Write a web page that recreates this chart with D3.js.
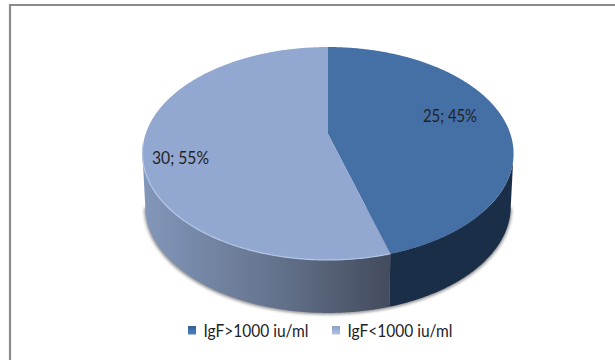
<!DOCTYPE html>
<html>
<head>
<meta charset="utf-8">
<script src="https://cdn.jsdelivr.net/npm/d3@7"></script>
<style>
  html, body { margin: 0; padding: 0; background: #fff; }
  svg { display: block; }
  text { font-family: Lato, "Open Sans", sans-serif; }
</style>
</head>
<body>
<script>
// IgE groups and patient counts
const categories = ["IgF>1000 iu/ml", "IgF<1000 iu/ml"];
const counts = [25, 30];
const percents = [45, 55];

const W = 615, H = 360;
const svg = d3.select("body").append("svg").attr("width", W).attr("height", H);
const defs = svg.append("defs");

// Chart frame: only the top and left rules are visible in the window
svg.append("rect").attr("width", W).attr("height", H).attr("fill", "#fff");
svg.append("path")
  .attr("d", `M10,${H}V5H${W}`)
  .attr("fill", "none").attr("stroke", "#8b8b8b").attr("stroke-width", 2.2);

// Perspective disc: maps unit-circle coordinates on to the screen
const cx = 328, apexY = 134, k = 0.183, a = 182.4, b = 102.9;
const depth = 53, baseShrink = 0.985;
function project(t, lift) {
  const X = Math.sin(t), Y = -Math.cos(t), w = 1 - k * Y;
  const s = lift ? baseShrink : 1;
  return [cx + s * a * X / w, apexY + b * Y / w + (lift ? depth : 0)];
}
const line = d3.line();
const arcPts = (t0, t1, lift) => {
  const n = Math.max(2, Math.ceil(Math.abs(t1 - t0) / 0.01));
  return d3.range(n + 1).map(i => project(t0 + (t1 - t0) * i / n, lift));
};

const pie = d3.pie().sort(null).startAngle(0).endAngle(2 * Math.PI);
const arcs = pie(counts);

const silhouetteR = Math.acos(-k), silhouetteL = 2 * Math.PI - silhouetteR;
const split = arcs[0].endAngle;

// Gradients for the side wall and legend keys
const wallGrad = defs.append("linearGradient").attr("id", "wallLight")
  .attr("gradientUnits", "userSpaceOnUse")
  .attr("x1", 146).attr("x2", 391).attr("y1", 0).attr("y2", 0);
wallGrad.append("stop").attr("offset", 0).attr("stop-color", "#8296b9");
wallGrad.append("stop").attr("offset", 0.5).attr("stop-color", "#66758f");
wallGrad.append("stop").attr("offset", 1).attr("stop-color", "#434b5d");

const keyColors = [["#2f5f98", "#4f80bc"], ["#8a9fc6", "#b4c4e0"]];
keyColors.forEach((c, i) => {
  const g = defs.append("linearGradient").attr("id", "key" + i)
    .attr("x1", 0).attr("x2", 0).attr("y1", 0).attr("y2", 1);
  g.append("stop").attr("offset", 0).attr("stop-color", c[0]);
  g.append("stop").attr("offset", 1).attr("stop-color", c[1]);
});

defs.append("filter").attr("id", "soft")
  .attr("x", "-10%").attr("y", "-10%").attr("width", "120%").attr("height", "120%")
  .append("feGaussianBlur").attr("stdDeviation", 1.6);

// Soft cast shadow under the base
const basePts = arcPts(silhouetteR, silhouetteL, true);
svg.append("path")
  .attr("d", line(basePts.map(p => [p[0] - (p[0] < cx ? 1 : -1), p[1] + 1.5])) + "Z")
  .attr("fill", "#3a3a3a").attr("opacity", 0.55).attr("filter", "url(#soft)");

// Side walls
const wall = (t0, t1) => line([...arcPts(t0, t1, false), ...arcPts(t1, t0, true)]) + "Z";
svg.append("path").attr("d", wall(silhouetteR, split)).attr("fill", "#1b2e48");
svg.append("path").attr("d", wall(split, silhouetteL)).attr("fill", "url(#wallLight)");

// Top face slices, each running from the disc centre round its arc
const faceColors = ["#4570a6", "#92a8d0"];
svg.selectAll("path.slice").data(arcs).join("path")
  .attr("class", "slice")
  .attr("fill", (d, i) => faceColors[i])
  .attr("d", d => line([[cx, apexY], ...arcPts(d.startAngle, d.endAngle, false)]) + "Z");

// Pale rim along the near edge of the lighter slice
svg.append("path")
  .attr("d", line(arcPts(split, silhouetteL + 0.1, false)))
  .attr("fill", "none").attr("stroke", "#b4c6e6").attr("stroke-width", 1.2);

// Data labels, set condensed to the narrow chart face
const labelPos = [[450, 115], [180.5, 157]];
const labelWidth = [54, 57];
svg.selectAll("text.value").data(counts).join("text")
  .attr("class", "value")
  .attr("x", (d, i) => labelPos[i][0]).attr("y", (d, i) => labelPos[i][1])
  .attr("text-anchor", "middle").attr("dominant-baseline", "central")
  .attr("font-size", 17.5).attr("fill", "#222226")
  .attr("textLength", (d, i) => labelWidth[i])
  .attr("lengthAdjust", "spacingAndGlyphs")
  .text((d, i) => `${d}; ${percents[i]}%`);

// Legend
const legendX = [188, 332];
const legend = svg.selectAll("g.key").data(categories).join("g")
  .attr("class", "key")
  .attr("transform", (d, i) => `translate(${legendX[i]},326)`);
legend.append("rect").attr("width", 8).attr("height", 8.5)
  .attr("fill", (d, i) => `url(#key${i})`);
legend.append("text").attr("x", 15.5).attr("y", 4)
  .attr("dominant-baseline", "central")
  .attr("font-size", 17).attr("fill", "#222226")
  .attr("textLength", 105)
  .attr("lengthAdjust", "spacingAndGlyphs")
  .text(d => d);
</script>
</body>
</html>
